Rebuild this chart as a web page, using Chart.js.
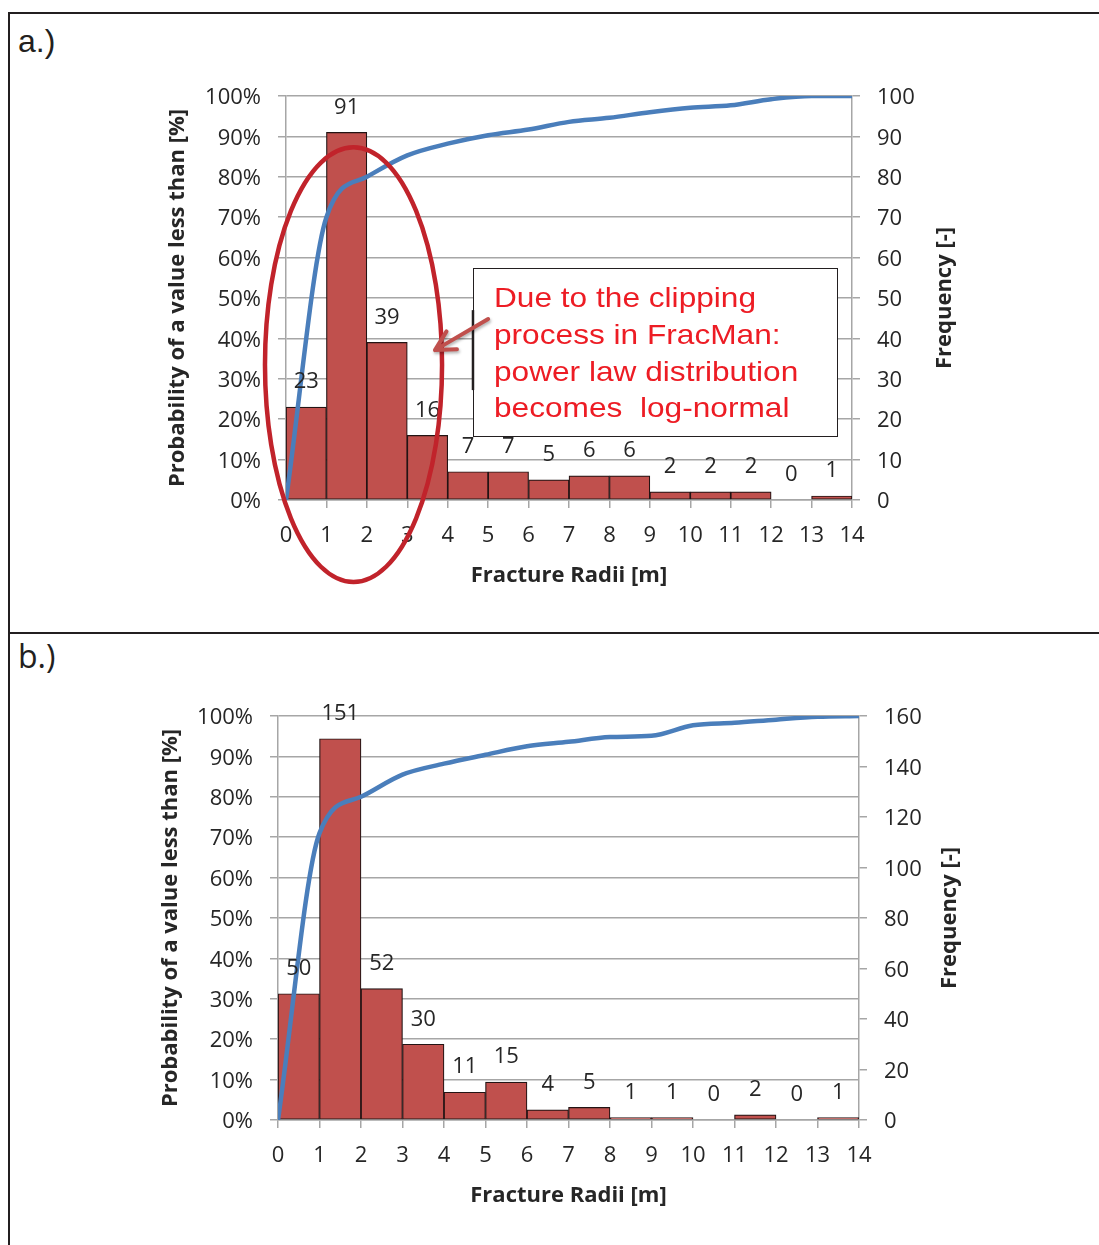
<!DOCTYPE html>
<html>
<head>
<meta charset="utf-8">
<title>Fracture radii histograms</title>
<script src="https://cdn.jsdelivr.net/npm/chart.js@4.4.1/dist/chart.umd.min.js"></script>
<style>
  body { margin: 0; background: #fff; }
  #page { position: relative; width: 1099px; height: 1245px; overflow: hidden; }
  .rule { position: absolute; background: #231f20; }
  .tag { position: absolute; left: 18px; font-size: 32px; line-height: 1; color: #231f20; }
  canvas { position: absolute; left: 0; }
</style>
</head>
<body>
<div id="page">
  <div class="rule" style="left:8px;top:12px;width:1091px;height:2px"></div>
  <div class="rule" style="left:8px;top:12px;width:2px;height:1233px"></div>
  <div class="rule" style="left:8px;top:632px;width:1091px;height:2px"></div>
  <div class="tag" style="top:25px;font-family:'Liberation Sans',sans-serif">a.)</div>
  <div class="tag" style="top:640px;font-family:'Open Sans',sans-serif">b.)</div>
  <canvas id="chartA" width="1099" height="625" style="top:0"></canvas>
  <canvas id="chartB" width="1099" height="625" style="top:620px"></canvas>
</div>
<script>
// bin edges (m) and bin centres for the 1 m classes
const radii = [0, 1, 2, 3, 4, 5, 6, 7, 8, 9, 10, 11, 12, 13, 14];
const binMid = [0.5, 1.5, 2.5, 3.5, 4.5, 5.5, 6.5, 7.5, 8.5, 9.5, 10.5, 11.5, 12.5, 13.5];

// a.) clipped set
const freqA = [23, 91, 39, 16, 7, 7, 5, 6, 6, 2, 2, 2, 0, 1];
const cumA = [0, 70, 80, 85.3, 88.2, 90.3, 91.7, 93.6, 94.6, 96, 97.1, 97.7, 99.2, 100, 100];
const freqMaxA = 100;
const freqStepA = 10;

// b.) second set
const freqB = [50, 151, 52, 30, 11, 15, 4, 5, 1, 1, 0, 2, 0, 1];
const cumB = [0, 71, 80, 85.5, 88.2, 90.4, 92.5, 93.6, 94.8, 95.1, 97.7, 98.3, 99.1, 99.8, 100];
const freqMaxB = 160;
const freqStepB = 20;

const noteLines = ['Due to the clipping', 'process in FracMan:', 'power law distribution', 'becomes  log-normal'];

const GRID = '#a6a6a6';
const INK = '#262626';
const FONT = "'Open Sans', sans-serif";
const TICK_FONT = { family: FONT, size: 22 };
const TITLE_FONT = { family: FONT, size: 22, weight: 'bold', lineHeight: 24 / 22 };

// value labels above each bar
const barValues = {
  id: 'barValues',
  afterDatasetsDraw(chart) {
    const ctx = chart.ctx;
    const ds = chart.data.datasets[1];
    ctx.save();
    ctx.font = '22px ' + FONT;
    ctx.fillStyle = INK;
    ctx.textAlign = 'center';
    ctx.textBaseline = 'middle';
    chart.getDatasetMeta(1).data.forEach((bar, i) => {
      ctx.fillText(String(ds.data[i].y), bar.x, bar.y - 25);
    });
    ctx.restore();
  }
};

// right-hand axis title, reading bottom to top like the left one
const freqTitle = {
  id: 'freqTitle',
  afterDraw(chart) {
    const { ctx, chartArea, scales: { yF } } = chart;
    ctx.save();
    ctx.translate(yF.right - 12, (chartArea.top + chartArea.bottom) / 2);
    ctx.rotate(-Math.PI / 2);
    ctx.font = 'bold 22px ' + FONT;
    ctx.fillStyle = INK;
    ctx.textAlign = 'center';
    ctx.textBaseline = 'middle';
    ctx.fillText('Frequency [-]', 0, 0);
    ctx.restore();
  }
};

// ellipse, arrow and text box on the first chart
const clippingNote = {
  id: 'clippingNote',
  afterDraw(chart) {
    const { ctx, scales: { x, yP } } = chart;
    const px = v => x.getPixelForValue(v);
    const py = v => yP.getPixelForValue(v);
    ctx.save();

    ctx.strokeStyle = '#c1232b';
    ctx.lineWidth = 4.5;
    ctx.beginPath();
    ctx.ellipse(px(1.67), py(33.5), px(2.19) - px(0), py(0) - py(53.8), 0, 0, Math.PI * 2);
    ctx.stroke();

    const bl = px(4.625), br = px(13.63), bt = py(57.4), bb = py(15.8);
    ctx.fillStyle = '#fff';
    ctx.fillRect(bl, bt, br - bl, bb - bt);
    ctx.strokeStyle = '#231f20';
    ctx.lineWidth = 1;
    ctx.strokeRect(Math.round(bl) + 0.5, Math.round(bt) + 0.5, Math.round(br - bl), Math.round(bb - bt));
    ctx.lineWidth = 2.5;
    ctx.beginPath();
    ctx.moveTo(bl, py(47));
    ctx.lineTo(bl, py(27.2));
    ctx.stroke();

    ctx.fillStyle = '#ed1c24';
    ctx.font = "28px 'Liberation Sans', Arial, sans-serif";
    ctx.textBaseline = 'alphabetic';
    noteLines.forEach((line, i) => {
      ctx.save();
      ctx.translate(bl + 21, bt + 39 + i * 36.7);
      ctx.scale(1.13, 1);
      ctx.fillText(line, 0, 0);
      ctx.restore();
    });

    // arrow pointing at the ellipse
    const tx = px(3.685), ty = py(37.1), sx = px(5.0), sy = py(44.8);
    const ang = Math.atan2(sy - ty, sx - tx);
    const head = 22, spread = 0.49;
    ctx.strokeStyle = '#c0504d';
    ctx.lineWidth = 4;
    ctx.lineCap = 'round';
    ctx.lineJoin = 'round';
    ctx.shadowColor = 'rgba(0,0,0,0.3)';
    ctx.shadowBlur = 3;
    ctx.shadowOffsetX = 1;
    ctx.shadowOffsetY = 2;
    ctx.beginPath();
    ctx.moveTo(sx, sy);
    ctx.lineTo(tx, ty);
    ctx.moveTo(tx + head * Math.cos(ang - spread), ty + head * Math.sin(ang - spread));
    ctx.lineTo(tx, ty);
    ctx.lineTo(tx + head * Math.cos(ang + spread), ty + head * Math.sin(ang + spread));
    ctx.stroke();

    ctx.restore();
  }
};

function histogram(id, freq, cum, freqMax, freqStep, frame, extra) {
  return new Chart(document.getElementById(id), {
    type: 'bar',
    data: {
      datasets: [
        {
          type: 'line',
          data: radii.map((r, i) => ({ x: r, y: cum[i] })),
          yAxisID: 'yP',
          borderColor: '#4a7ebb',
          borderWidth: 4.5,
          pointRadius: 0,
          cubicInterpolationMode: 'monotone',
          order: 0
        },
        {
          type: 'bar',
          data: binMid.map((m, i) => ({ x: m, y: freq[i] })),
          yAxisID: 'yF',
          backgroundColor: '#c0504d',
          borderColor: '#231414',
          borderWidth: 1.2,
          borderSkipped: false,
          barPercentage: 1,
          categoryPercentage: 1,
          order: 1
        }
      ]
    },
    options: {
      responsive: false,
      animation: false,
      layout: { padding: { left: frame.padL, right: frame.padR, top: 96, bottom: 37 } },
      plugins: { legend: { display: false }, tooltip: { enabled: false } },
      scales: {
        x: {
          type: 'linear',
          min: 0,
          max: 14,
          offset: false,
          afterFit: s => { s.height = 88; },
          ticks: { stepSize: 1, color: INK, font: TICK_FONT, padding: 15, maxRotation: 0, autoSkip: false },
          grid: { offset: false, drawOnChartArea: false, color: GRID, lineWidth: 1.5, tickLength: 8 },
          border: { color: GRID, width: 1.5 },
          title: { display: true, text: 'Fracture Radii [m]', color: INK, padding: 0, font: TITLE_FONT }
        },
        yP: {
          type: 'linear',
          position: 'left',
          min: 0,
          max: 100,
          afterFit: s => { s.width = frame.leftW; },
          ticks: { stepSize: 10, color: INK, font: TICK_FONT, padding: 17, labelOffset: 2, callback: v => v + '%' },
          grid: { color: GRID, lineWidth: 1.5, tickLength: 8 },
          border: { color: GRID, width: 1.5 },
          title: { display: true, text: 'Probability of a value less than [%]', color: INK, padding: 0, font: TITLE_FONT }
        },
        yF: {
          type: 'linear',
          position: 'right',
          min: 0,
          max: freqMax,
          afterFit: s => { s.width = frame.rightW; },
          ticks: { stepSize: freqStep, color: INK, font: TICK_FONT, padding: 17, labelOffset: 2 },
          grid: { drawOnChartArea: false, color: GRID, lineWidth: 1.5, tickLength: 8 },
          border: { color: GRID, width: 1.5 }
        }
      }
    },
    plugins: [barValues, freqTitle].concat(extra)
  });
}

histogram('chartA', freqA, cumA, freqMaxA, freqStepA, { padL: 166, leftW: 120, rightW: 105, padR: 142 }, [clippingNote]);
histogram('chartB', freqB, cumB, freqMaxB, freqStepB, { padL: 159, leftW: 119, rightW: 103, padR: 137 }, []);
</script>
</body>
</html>
